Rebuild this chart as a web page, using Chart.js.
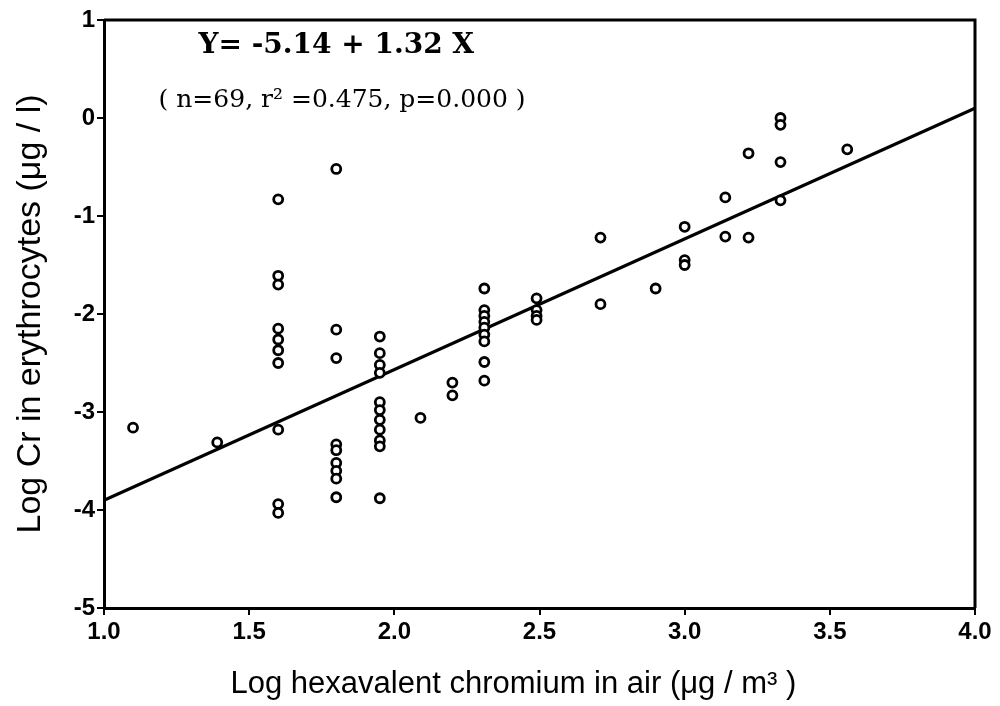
<!DOCTYPE html>
<html>
<head>
<meta charset="utf-8">
<script src="https://cdn.jsdelivr.net/npm/chart.js@4.4.1/dist/chart.umd.min.js"></script>
<style>
  body { margin: 0; background: #fff; }
  #wrap { width: 1000px; height: 706px; }
</style>
</head>
<body>
<div id="wrap"><canvas id="crChart"></canvas></div>
<script>
// Log hexavalent chromium in air (x) vs log Cr in erythrocytes (y)
const airLog = [
  1.10, 1.39,
  1.60, 1.60, 1.60, 1.60, 1.60, 1.60, 1.60, 1.60, 1.60, 1.60,
  1.80, 1.80, 1.80, 1.80, 1.80, 1.80, 1.80, 1.80, 1.80,
  1.95, 1.95, 1.95, 1.95, 1.95, 1.95, 1.95, 1.95, 1.95, 1.95, 1.95,
  2.09, 2.20, 2.20,
  2.31, 2.31, 2.31, 2.31, 2.31, 2.31, 2.31, 2.31, 2.31,
  2.49, 2.49, 2.49, 2.49,
  2.71, 2.71, 2.90, 3.00, 3.00, 3.00,
  3.14, 3.14, 3.22, 3.22,
  3.33, 3.33, 3.33, 3.33, 3.56
];
const rbcLog = [
  -3.16, -3.31,
  -0.83, -1.61, -1.70, -2.15, -2.26, -2.37, -2.50, -3.18, -3.94, -4.03,
  -0.52, -2.16, -2.45, -3.33, -3.39, -3.52, -3.60, -3.68, -3.87,
  -2.23, -2.40, -2.52, -2.60, -2.90, -2.98, -3.08, -3.18, -3.29, -3.35, -3.88,
  -3.06, -2.70, -2.83,
  -1.74, -1.96, -2.02, -2.08, -2.14, -2.21, -2.28, -2.49, -2.68,
  -1.84, -1.96, -2.02, -2.06,
  -1.22, -1.90, -1.74, -1.11, -1.45, -1.50,
  -0.81, -1.21, -0.36, -1.22,
  0.00, -0.07, -0.45, -0.84, -0.32
];

// fitted line as drawn across the plot
const fitX = [1.0, 4.0];
const fitY = [-3.9, 0.1];

const xTicks = [1.0, 1.5, 2.0, 2.5, 3.0, 3.5, 4.0];
const yTicks = [-5, -4, -3, -2, -1, 0, 1];

const eqText = 'Y= -5.14 + 1.32 X';
const statsText = '( n=69, r\u00B2 =0.475, p=0.000 )';
const xTitle = 'Log hexavalent chromium in air (\u03BCg / m\u00B3 )';

Chart.defaults.font.family = '"Liberation Sans", Arial, sans-serif';
Chart.defaults.color = '#000';

// frame on top/right, the regression text and the x title
const frameAndNotes = {
  id: 'frameAndNotes',
  afterDraw(chart) {
    const { ctx, chartArea: a, scales } = chart;
    ctx.save();
    ctx.strokeStyle = '#000';
    ctx.lineWidth = 3;
    ctx.beginPath();
    ctx.moveTo(a.left, a.top);
    ctx.lineTo(a.right, a.top);
    ctx.lineTo(a.right, a.bottom);
    ctx.stroke();

    ctx.fillStyle = '#000';
    ctx.textAlign = 'center';
    ctx.textBaseline = 'middle';
    ctx.font = 'bold 28px "DejaVu Serif", "Liberation Serif", serif';
    ctx.fillText(eqText, scales.x.getPixelForValue(1.80), scales.y.getPixelForValue(0.74));
    ctx.font = '25px "DejaVu Serif", "Liberation Serif", serif';
    ctx.fillText(statsText, scales.x.getPixelForValue(1.82), scales.y.getPixelForValue(0.18));

    ctx.font = '31px "Liberation Sans", Arial, sans-serif';
    ctx.fillText(xTitle, scales.x.getPixelForValue(2.41), a.bottom + 76);
    ctx.restore();
  }
};

const points = airLog.map((x, i) => ({ x: x, y: rbcLog[i] }));
const fitLine = fitX.map((x, i) => ({ x: x, y: fitY[i] }));

const ctx = document.getElementById('crChart').getContext('2d');
new Chart(ctx, {
  type: 'scatter',
  data: {
    datasets: [
      {
        label: 'Cr',
        data: points,
        pointRadius: 4.5,
        pointBorderWidth: 2.8,
        pointBackgroundColor: '#fff',
        pointBorderColor: '#000'
      },
      {
        type: 'line',
        label: 'fit',
        data: fitLine,
        borderColor: '#000',
        borderWidth: 3.2,
        pointRadius: 0,
        fill: false
      }
    ]
  },
  options: {
    responsive: true,
    maintainAspectRatio: false,
    animation: false,
    layout: { padding: { top: 20, right: 25, left: 0, bottom: 0 } },
    plugins: {
      legend: { display: false },
      tooltip: { enabled: false }
    },
    scales: {
      x: {
        type: 'linear',
        min: 1.0,
        max: 4.0,
        afterBuildTicks: s => { s.ticks = xTicks.map(v => ({ value: v })); },
        afterFit: s => { s.height = 98; },
        border: { display: true, color: '#000', width: 3 },
        grid: { drawOnChartArea: false, drawTicks: true, tickLength: 7, color: '#000', lineWidth: 2 },
        ticks: {
          font: { size: 24, weight: 'bold' },
          padding: 3,
          callback: v => v.toFixed(1)
        },
        title: { display: false }
      },
      y: {
        type: 'linear',
        min: -5,
        max: 1,
        afterBuildTicks: s => { s.ticks = yTicks.map(v => ({ value: v })); },
        afterFit: s => { s.width = 104; },
        border: { display: true, color: '#000', width: 3 },
        grid: { drawOnChartArea: false, drawTicks: true, tickLength: 7, color: '#000', lineWidth: 2 },
        ticks: {
          font: { size: 24, weight: 'bold' },
          padding: 2,
          callback: v => String(v)
        },
        title: {
          display: true,
          text: 'Log Cr in erythrocytes (\u03BCg / l)',
          font: { size: 34 },
          padding: { top: 10, bottom: 0 }
        }
      }
    }
  },
  plugins: [frameAndNotes]
});
</script>
</body>
</html>
